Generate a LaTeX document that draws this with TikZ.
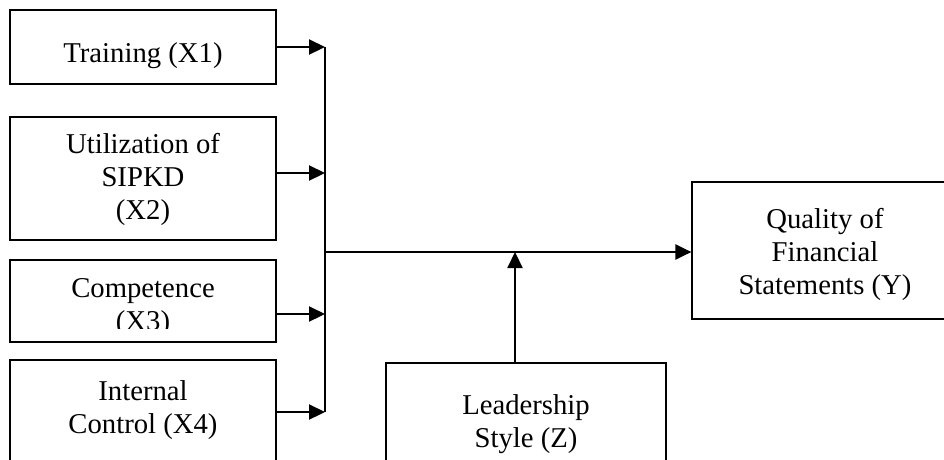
\documentclass[tikz,border=0pt]{standalone}
\usepackage{fontspec}
\setmainfont{Liberation Serif}
\usetikzlibrary{arrows.meta}
\begin{document}
\begin{tikzpicture}[x=1pt,y=-1pt,
    box/.style={draw,rectangle,line width=1.2pt,inner sep=0pt},
    lbl/.style={anchor=base,align=center,inner sep=0pt,font=\fontsize{28.7}{33}\selectfont},
    arr/.style={line width=2.2pt,-{Triangle[length=16pt,width=15pt]}}]
      \useasboundingbox (0,0) rectangle (944,459);
      \draw
        (143,47) node[box,minimum width=266pt,minimum height=74pt] (x1){}
        (143,178.5) node[box,minimum width=266pt,minimum height=123pt] (x2){}
        (143,301) node[box,minimum width=266pt,minimum height=82pt] (x3){}
        (143,415) node[box,minimum width=266pt,minimum height=110pt] (x4){}
        (825,250.5) node[box,minimum width=266pt,minimum height=137pt] (y){}
        (526,416.5) node[box,minimum width=280pt,minimum height=107pt] (z){};
      \draw
        (143,62) node[lbl] (t1){Training (X1)}
        (143,219) node[lbl] (t2){Utilization of\\SIPKD\\(X2)}
        (143,433) node[lbl] (t4){Internal\\Control (X4)}
        (825,294) node[lbl] (ty){Quality of\\Financial\\Statements (Y)}
        (526,447) node[lbl] (tz){Leadership\\Style (Z)};
      \begin{scope}
        \clip (11,261) rectangle (275,328);
        \node[lbl] (t3) at (143,330) {Competence\\(X3)};
      \end{scope}
      \coordinate (b1) at (325,47);
      \coordinate (b2) at (325,173);
      \coordinate (b3) at (325,314);
      \coordinate (b4) at (325,412);
      \coordinate (jn) at (325,252);
      \coordinate (zt) at (515,252);
      \begin{scope}[arr]
        \draw (x1.east |- b1) to (b1);
        \draw (x2.east |- b2) to (b2);
        \draw (x3.east |- b3) to (b3);
        \draw (x4.east |- b4) to (b4);
        \draw (jn) to (jn -| y.west);
        \draw (zt |- z.north) to (zt);
      \end{scope}
      \draw[line width=2.2pt] (b1) to (b4);
    \end{tikzpicture}
\end{document}
